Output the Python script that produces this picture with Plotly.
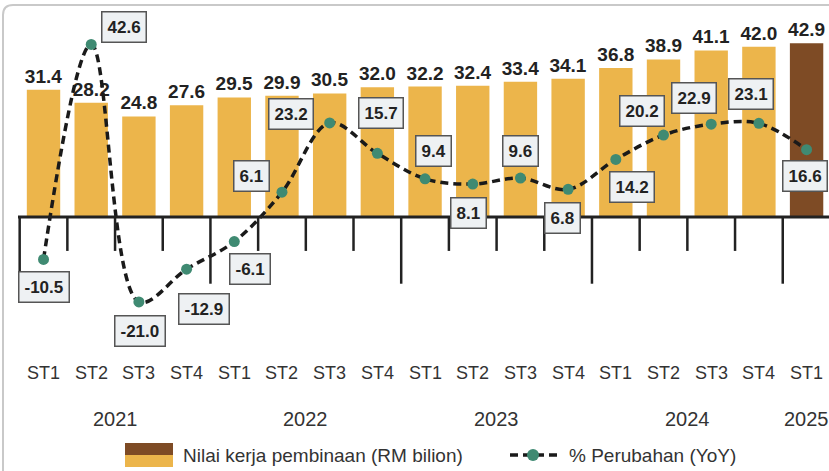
"""
Nilai kerja pembinaan (RM bilion) and % perubahan YoY, ST1 2021 - ST1 2025
"""
import plotly.graph_objects as go

quarters = ['ST1', 'ST2', 'ST3', 'ST4'] * 4 + ['ST1']
years = ['2021', '2022', '2023', '2024', '2025']
work_value = [31.4, 28.2, 24.8, 27.6, 29.5, 29.9, 30.5, 32.0, 32.2, 32.4, 33.4, 34.1,
              36.8, 38.9, 41.1, 42.0, 42.9]
yoy_change = [-10.5, 42.6, -21.0, -12.9, -6.1, 6.1, 23.2, 15.7, 9.4, 8.1, 9.6, 6.8,
              14.2, 20.2, 22.9, 23.1, 16.6]

GOLD = '#ecb54b'
BROWN = '#7e4b25'
TEAL = '#3f8a72'
INK = '#222222'
SANS = 'Liberation Sans, Arial'

# pixel offsets of the value boxes from their points (box centre - point)
box_offsets = [(0, 28), (33, -17), (1, 29), (17, 40), (16, 27), (-30, -16), (-39, -9),
               (4, -40), (8, -28), (-4, 29), (0, -27), (-6, 29), (16, 28), (-22, -24),
               (-17, -26), (-8, -29), (-2, 26)]

# plot area geometry (pixels) used for paper coordinates
L, T, W, H = 18, 10, 811, 330


def px_x(p):
    return (p - L) / W


def px_y(p):
    return (T + H - p) / H


x = list(range(len(work_value)))
bar_colors = [GOLD] * (len(work_value) - 1) + [BROWN]

fig = go.Figure()
fig.add_trace(go.Bar(x=x, y=work_value, width=0.7, marker=dict(color=bar_colors, line=dict(width=0)),
                     texttemplate='%{y:.1f}', textposition='outside', cliponaxis=False,
                     constraintext='none',
                     textfont=dict(family=SANS, size=19, color=INK, weight='bold'),
                     showlegend=False))
fig.add_trace(go.Scatter(x=x, y=yoy_change, mode='lines+markers',
                         line=dict(color='#1a1a1a', width=3.5, dash='8px,5px', shape='spline',
                                   smoothing=1.0),
                         marker=dict(color=TEAL, size=11), cliponaxis=False, showlegend=False))

shapes = []
# zero line and ticks
shapes.append(dict(type='line', xref='x', yref='y', x0=-0.535, x1=16.5, y0=0, y1=0,
                   line=dict(color=INK, width=3)))
for i in range(len(work_value) + 1):
    long_tick = i % 4 == 0
    shapes.append(dict(type='line', xref='x', yref='y', x0=i - 0.5, x1=i - 0.5, y0=0,
                       y1=-16.5 if long_tick else -8.4, line=dict(color=INK, width=2.5)))

# outer frame with rounded corner
fx, fy, r = px_x(3), px_y(5), 10
shapes.append(dict(type='path', xref='paper', yref='paper', layer='below',
                   path=f'M {fx},{px_y(600)} L {fx},{px_y(5 + r)} Q {fx},{fy} {px_x(3 + r)},{fy} '
                        f'L {px_x(900)},{fy}',
                   line=dict(color='#c9c9c9', width=2)))

# legend
shapes.append(dict(type='rect', xref='paper', yref='paper', x0=px_x(125), x1=px_x(173),
                   y0=px_y(455), y1=px_y(443), fillcolor=BROWN, line=dict(width=0)))
shapes.append(dict(type='rect', xref='paper', yref='paper', x0=px_x(125), x1=px_x(173),
                   y0=px_y(467), y1=px_y(455), fillcolor=GOLD, line=dict(width=0)))
shapes.append(dict(type='line', xref='paper', yref='paper', x0=px_x(510), x1=px_x(557),
                   y0=px_y(455), y1=px_y(455), line=dict(color='#1a1a1a', width=3.5, dash='8px,5px')))
shapes.append(dict(type='circle', xref='paper', yref='paper', x0=px_x(527), x1=px_x(539),
                   y0=px_y(461), y1=px_y(449), fillcolor=TEAL, line=dict(width=0)))

annotations = []
for i, (v, (ax, ay)) in enumerate(zip(yoy_change, box_offsets)):
    annotations.append(dict(x=i, y=v, xref='x', yref='y', ax=ax, ay=ay, showarrow=True,
                            arrowcolor='rgba(0,0,0,0)', arrowwidth=0.1, text=f'{v:.1f}',
                            font=dict(family=SANS, size=17, color=INK, weight='bold'),
                            bgcolor='#eef1f3', bordercolor='#555555', borderwidth=1.5,
                            borderpad=5))
for i, q in enumerate(quarters):
    annotations.append(dict(x=i, y=px_y(373), xref='x', yref='paper', yanchor='middle', text=q,
                            showarrow=False, font=dict(family=SANS, size=18, color='#333333')))
for j, yr in enumerate(years):
    annotations.append(dict(x=min(j * 4 + 1.5, 16), y=px_y(419), xref='x', yref='paper',
                            yanchor='middle', text=yr, showarrow=False,
                            font=dict(family=SANS, size=20, color='#333333')))
annotations.append(dict(x=px_x(181), y=px_y(455), xref='paper', yref='paper', xanchor='left',
                        yanchor='middle', text='Nilai kerja pembinaan (RM bilion)', showarrow=False,
                        font=dict(family=SANS, size=19, color='#333333')))
annotations.append(dict(x=px_x(567), y=px_y(455), xref='paper', yref='paper', xanchor='left',
                        yanchor='middle', text='% Perubahan (YoY)', showarrow=False,
                        font=dict(family=SANS, size=19, color='#333333')))

fig.update_layout(
    width=829, height=471,
    margin=dict(l=L, r=829 - L - W, t=T, b=471 - T - H),
    paper_bgcolor='white', plot_bgcolor='white',
    xaxis=dict(range=[-0.535, 16.47], visible=False, fixedrange=True),
    yaxis=dict(range=[-30.4, 51.1], visible=False, fixedrange=True),
    shapes=shapes, annotations=annotations, bargap=0.3,
)

fig.write_html('out.html', config={'displayModeBar': False},
               post_script="document.body.style.margin='0';")
